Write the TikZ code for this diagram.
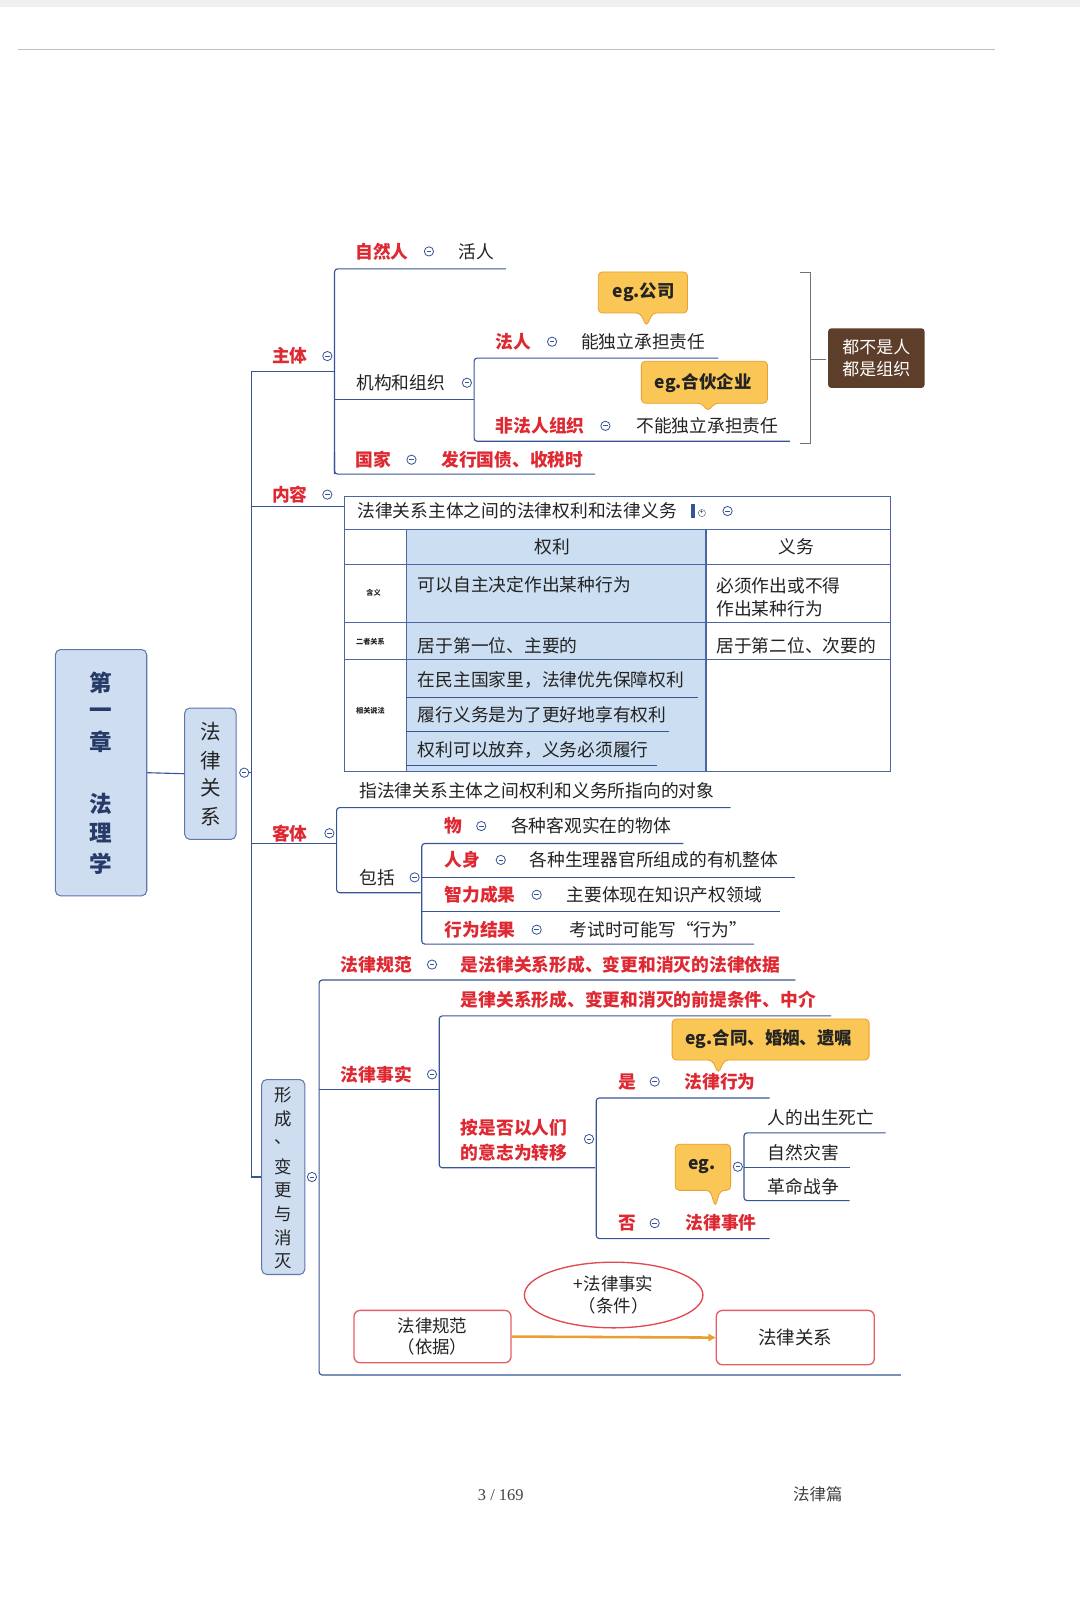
\documentclass[tikz,border=0pt]{standalone}
\usepackage{fontspec}
\setmainfont{Noto Sans CJK SC}
\newfontfamily\serifnum{Liberation Serif}
\usetikzlibrary{shapes.geometric,arrows.meta}
\definecolor{lb}{RGB}{55,85,150}
\definecolor{rd}{RGB}{222,40,50}
\definecolor{tx}{RGB}{35,35,35}
\definecolor{orf}{RGB}{250,198,85}
\definecolor{orb}{RGB}{232,160,50}
\definecolor{tshade}{RGB}{204,222,242}
\definecolor{rootf}{RGB}{206,222,240}
\definecolor{brn}{RGB}{92,62,42}
\tikzset{
 t/.style={anchor=west,inner sep=0pt,text=tx,font=\fontsize{17.3}{19}\selectfont},
 r/.style={t,text=rd,font=\fontsize{17.3}{19}\selectfont\bfseries},
 ln/.style={draw=lb,line width=1.1pt},
 cb/.style={circle,draw=lb,line width=0.8pt,minimum size=9pt,inner sep=0pt,
   path picture={\draw[lb,line width=0.8pt] ([xshift=-2.2pt]path picture bounding box.center)--([xshift=2.2pt]path picture bounding box.center);}},
 callout/.style={draw=orb,fill=orf,line width=0.8pt,rounded corners=4pt},
 vbox/.style={draw=lb!80,fill=rootf,line width=1pt,rounded corners=5pt},
}
\newcommand{\cbx}[3]{\node[cb] (#1) at (#2,#3) {};}
\begin{document}
\begin{tikzpicture}[x=1pt,y=-1pt]
\useasboundingbox (0,0) rectangle (1052,1568);
\fill[white] (0,0) rectangle (1052,1568);
\fill[black!6] (0,0) rectangle (1052,7);
\draw[black!25,line width=1pt] (18,48) -- (970,48);
% root
\node[vbox,minimum width=89pt,minimum height=240pt] (root) at (98.5,753) {};
\foreach \c/\y in {第/665,一/695,章/723,法/783,理/812,学/842}
  \node[font=\fontsize{22}{24}\selectfont\bfseries,text=lb!70!black] at (98.5,\y) {\c};
\node[vbox,minimum width=50pt,minimum height=128pt] (flgx) at (205,754) {};
\foreach \c/\y in {法/713,律/741,关/768,系/796}
  \node[font=\fontsize{20}{22}\selectfont,text=tx] at (205,\y) {\c};
\draw[ln] (root.east) -- (flgx.west);
\cbx{c0}{238}{753}
% trunk
\draw[ln] (245,362) -- (245,1147) -- (255,1147);
\draw[ln] (c0.east) -- (245,753);
% 主体
\node[r] (zt) at (265,347) {主体}; \cbx{c1}{319}{347}
\draw[ln] (245,362) -- (325,362);
\draw[ln,rounded corners=3pt] (326,462) -- (326,262) -- (493,262);
\node[r] at (346,245) {自然人}; \cbx{c2}{418}{245} \node[t] at (447,245) {活人};
\node[t] at (347,373) {机构和组织}; \cbx{c3}{455}{373}
\draw[ln] (326,389) -- (462,389);
\draw[ln,rounded corners=3pt] (700,349) -- (462,349) -- (462,430) -- (770,430);
\node[r] at (483,333) {法人}; \cbx{c4}{538}{333} \node[t] at (566,333) {能独立承担责任};
\node[r] at (483,415) {非法人组织}; \cbx{c5}{590}{415} \node[t] at (620,415) {不能独立承担责任};
\draw[ln,rounded corners=3pt] (326,440) -- (326,462) -- (580,462);
\node[r] at (346,448) {国家}; \cbx{c6}{401}{448} \node[r] at (430,448) {发行国债、收税时};
% callouts
\draw[callout] (583,265) -- (670,265) -- (670,305) -- (636,305) -- (630,318) -- (624,305) -- (583,305) -- cycle;
\node[t,font=\fontsize{17}{19}\selectfont\bfseries] at (597,285) {eg.公司};
\draw[callout] (625,352) -- (748,352) -- (748,393) -- (696,393) -- (690,401) -- (684,393) -- (625,393) -- cycle;
\node[t,font=\fontsize{17}{19}\selectfont\bfseries] at (638,373) {eg.合伙企业};
\draw[black!55,line width=0.8pt] (780,265) -- (790,265) -- (790,432) -- (780,432);
\draw[black!55,line width=0.8pt] (790,350) -- (805,350);
\node[fill=brn,rounded corners=3pt,minimum width=94pt,minimum height=58pt,text=white,align=left,font=\fontsize{16.5}{21}\selectfont] (bx) at (854,349) {都不是人\\都是组织};
% 内容
\node[r] at (265,482) {内容}; \cbx{c7}{319}{482}
\draw[ln] (245,494) -- (336,494);
\fill[tshade] (396,516) rectangle (688,752);
\draw[lb!90,line width=1pt] (336,484) rectangle (868,752);
\draw[lb!90,line width=1pt] (336,516) -- (868,516) (336,550) -- (868,550) (336,607) -- (868,607) (336,643) -- (868,643);
\draw[lb!90,line width=1pt] (396,516) -- (396,752) (688,516) -- (688,752);
\node[t] at (348,498) {法律关系主体之间的法律权利和法律义务};
\fill[lb] (673,491) rectangle (677,505); \node[circle,draw=lb,inner sep=0pt,minimum size=7pt,font=\fontsize{6}{6}\selectfont] at (684,500) {+};
\cbx{c8}{709}{498}
\node[font=\fontsize{17.3}{19}\selectfont,text=tx] at (538,533) {权利};
\node[font=\fontsize{17.3}{19}\selectfont,text=tx] at (776,533) {义务};
\node[font=\fontsize{7}{8}\selectfont\bfseries,text=tx] at (364,578) {含义};
\node[font=\fontsize{7}{8}\selectfont\bfseries,text=tx] at (361,625) {二者关系};
\node[font=\fontsize{7}{8}\selectfont\bfseries,text=tx] at (361,693) {相关说法};
\node[t] at (407,570) {可以自主决定作出某种行为};
\node[t,align=left,font=\fontsize{17.3}{23}\selectfont] at (698,582) {必须作出或不得\\作出某种行为};
\node[t] at (407,629) {居于第一位、主要的};
\node[t] at (698,629) {居于第二位、次要的};
\node[t] at (407,663) {在民主国家里，法律优先保障权利};
\node[t] at (407,697) {履行义务是为了更好地享有权利};
\node[t] at (407,731) {权利可以放弃，义务必须履行};
\draw[ln] (396,680) -- (680,680) (396,713) -- (652,713) (396,746) -- (640,746);
% 客体
\node[r] at (265,812) {客体}; \cbx{c9}{321}{812}
\draw[ln] (245,822) -- (328,822);
\draw[ln,rounded corners=3pt] (712,787) -- (328,787) -- (328,870) -- (410,870);
\node[t] at (350,771) {指法律关系主体之间权利和义务所指向的对象};
\node[t] at (350,855) {包括}; \cbx{c10}{404}{855}
\draw[ln,rounded corners=3pt] (666,822) -- (411,822) -- (411,920) -- (735,920);
\draw[ln] (411,855) -- (775,855) (411,888) -- (760,888);
\node[r] at (433,805) {物}; \cbx{c11}{469}{805} \node[t] at (498,805) {各种客观实在的物体};
\node[r] at (433,838) {人身}; \cbx{c12}{488}{838} \node[t] at (516,838) {各种生理器官所组成的有机整体};
\node[r] at (433,872) {智力成果}; \cbx{c13}{523}{872} \node[t] at (552,872) {主要体现在知识产权领域};
\node[r] at (433,906) {行为结果}; \cbx{c14}{523}{906} \node[t] at (555,906) {考试时可能写“行为”};
% 形成
\node[vbox,minimum width=42pt,minimum height=190pt] (xc) at (276,1147) {};
\foreach \c/\y in {形/1067,成/1090,、/1113,变/1137,更/1160,与/1183,消/1206,灭/1229}
  \node[font=\fontsize{17}{19}\selectfont,text=tx] at (276,\y) {\c};
\cbx{c15}{304}{1147}
\draw[ln,rounded corners=3pt] (775,955) -- (311,955) -- (311,1340) -- (878,1340);
\node[r] at (332,940) {法律规范}; \cbx{c16}{421}{940} \node[r] at (449,940) {是法律关系形成、变更和消灭的法律依据};
\node[r] at (332,1047) {法律事实}; \cbx{c17}{421}{1047}
\draw[ln] (311,1062) -- (428,1062);
\draw[ln,rounded corners=3pt] (810,990) -- (428,990) -- (428,1138) -- (580,1138);
\node[r] at (449,974) {是律关系形成、变更和消灭的前提条件、中介};
\node[r,align=left,font=\fontsize{17.3}{24}\selectfont\bfseries] at (449,1111) {按是否以人们\\的意志为转移};
\cbx{c18}{574}{1110}
\draw[ln,rounded corners=3pt] (750,1070) -- (581,1070) -- (581,1207) -- (750,1207);
\node[r] at (603,1054) {是}; \cbx{c19}{638}{1054} \node[r] at (667,1054) {法律行为};
\node[r] at (603,1192) {否}; \cbx{c20}{638}{1192} \node[r] at (668,1192) {法律事件};
\draw[callout] (655,993) -- (847,993) -- (847,1033) -- (706,1033) -- (700,1046) -- (694,1033) -- (655,1033) -- cycle;
\node[t,font=\fontsize{17}{19}\selectfont\bfseries] at (668,1013) {eg.合同、婚姻、遗嘱};
\draw[callout] (658,1115) -- (712,1115) -- (712,1160) -- (702,1160) -- (697,1176) -- (692,1160) -- (658,1160) -- cycle;
\node[t,font=\fontsize{17}{19}\selectfont\bfseries] at (671,1137) {eg.};
\cbx{c21}{719}{1137}
\draw[ln,rounded corners=3pt] (863,1104) -- (725,1104) -- (725,1170) -- (828,1170);
\draw[ln] (725,1138) -- (828,1138);
\node[t] at (748,1089) {人的出生死亡};
\node[t] at (748,1123) {自然灾害};
\node[t] at (748,1156) {革命战争};
% bottom
\node[ellipse,draw=rd!85,line width=1.3pt,fill=white,minimum width=174pt,minimum height=64pt,align=center,font=\fontsize{17}{21}\selectfont,text=tx] (el) at (598,1262) {+法律事实\\（条件）};
\node[draw=rd!75,line width=1.3pt,rounded corners=6pt,minimum width=153pt,minimum height=51pt,align=center,font=\fontsize{17}{21}\selectfont,text=tx] (gf) at (421.5,1302.5) {法律规范\\（依据）};
\node[draw=rd!75,line width=1.3pt,rounded corners=6pt,minimum width=154pt,minimum height=53pt,font=\fontsize{18}{20}\selectfont,text=tx] (gx) at (775,1303.5) {法律关系};
\draw[orb,line width=2.5pt,-{Triangle[length=7pt,width=7pt]}] (gf.east) -- (gx.west);
% footer
\node[font=\serifnum\fontsize{16}{18}\selectfont,text=black!75] at (488,1457) {3 / 169};
\node[font=\fontsize{16}{18}\selectfont,text=black!75] at (797,1456) {法律篇};
\end{tikzpicture}
\end{document}
